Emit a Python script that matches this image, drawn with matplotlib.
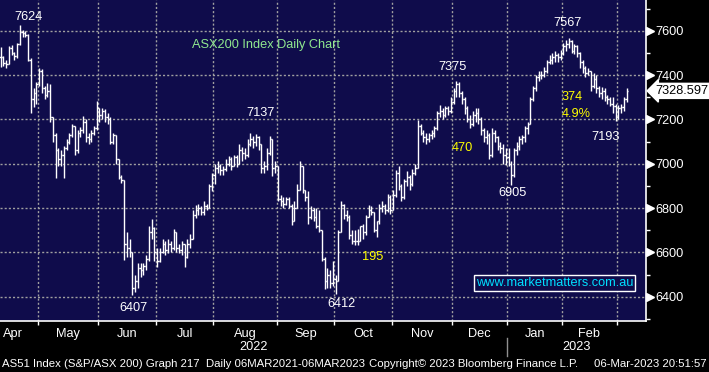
import numpy as np
import pandas as pd
import matplotlib
matplotlib.use('Agg')
import matplotlib.pyplot as plt
import matplotlib.transforms as mtransforms
from matplotlib.collections import LineCollection
from matplotlib.lines import Line2D

# ASX200 daily bars (Apr 2022 - Mar 2023)
closes_apr = [7480, 7455, 7450, 7520, 7500, 7485, 7540, 7595, 7590, 7580, 7470, 7290, 7320, 7360]
highs_apr = [7526, 7485, 7470, 7530, 7535, 7505, 7545, 7624, 7605, 7598, 7585, 7475, 7340, 7370]
lows_apr = [7435, 7440, 7430, 7450, 7490, 7470, 7475, 7535, 7570, 7570, 7465, 7230, 7255, 7270]

closes_may = [7420, 7340, 7310, 7330, 7210, 7130, 7060, 7020, 7040, 7070, 7100,
              7130, 7170, 7060, 7140, 7150, 7190, 7120, 7110, 7140, 7160, 7250]
highs_may = [7430, 7425, 7350, 7365, 7360, 7200, 7140, 7070, 7060, 7080, 7110,
             7140, 7180, 7170, 7150, 7165, 7215, 7200, 7140, 7150, 7170, 7285]
lows_may = [7350, 7320, 7290, 7300, 7190, 7100, 6935, 6990, 6990, 6935, 7060,
            7090, 7120, 7040, 7050, 7120, 7140, 7100, 7090, 7100, 7130, 7150]

closes_jun = [7220, 7240, 7210, 7200, 7100, 7130, 7020, 6940, 6925, 6640, 6620,
              6600, 6440, 6470, 6530, 6520, 6540, 6570, 6690, 6710, 6600]
highs_jun = [7250, 7253, 7245, 7230, 7210, 7140, 7130, 7020, 6950, 6920, 6690,
             6660, 6600, 6500, 6550, 6550, 6550, 6590, 6720, 6750, 6715]
lows_jun = [7190, 7200, 7190, 7180, 7090, 7090, 7000, 6930, 6915, 6565, 6580,
            6580, 6407, 6420, 6440, 6490, 6500, 6520, 6560, 6660, 6560]

closes_jul = [6560, 6600, 6640, 6610, 6640, 6620, 6690, 6620, 6610, 6640, 6580,
              6640, 6660, 6770, 6790, 6800, 6780, 6810, 6800, 6900, 6950]
highs_jul = [6620, 6620, 6660, 6650, 6660, 6650, 6705, 6690, 6640, 6650, 6620,
             6660, 6685, 6790, 6815, 6820, 6810, 6830, 6820, 6910, 6960]
lows_jul = [6535, 6555, 6595, 6590, 6595, 6600, 6610, 6600, 6595, 6590, 6535,
            6575, 6620, 6660, 6755, 6770, 6770, 6770, 6790, 6800, 6875]

closes_aug = [6980, 6990, 6970, 6975, 7000, 7020, 6990, 7030, 7000, 7060, 7050, 7040,
              7090, 7110, 7100, 7120, 7090, 6980, 6990, 7050, 7110, 6980, 6990]
highs_aug = [7000, 7010, 7000, 6990, 7020, 7035, 7030, 7040, 7040, 7090, 7075, 7070,
             7110, 7137, 7125, 7135, 7125, 7090, 7010, 7070, 7125, 7110, 7010]
lows_aug = [6910, 6960, 6950, 6950, 6965, 6990, 6970, 6990, 6985, 7000, 7010, 7020,
            7030, 7080, 7070, 7080, 7060, 6960, 6960, 6970, 7040, 6945, 6960]

closes_sep = [6840, 6830, 6820, 6840, 6810, 6740, 6800, 6880, 6990, 6880, 6850,
              6760, 6790, 6760, 6720, 6700, 6570, 6470, 6500, 6460, 6480]
highs_sep = [6990, 6860, 6850, 6850, 6850, 6820, 6830, 6910, 7010, 6990, 6880,
             6875, 6810, 6800, 6800, 6790, 6700, 6580, 6530, 6520, 6560]
lows_sep = [6830, 6810, 6800, 6815, 6800, 6725, 6740, 6800, 6880, 6870, 6830,
            6730, 6750, 6740, 6710, 6690, 6560, 6435, 6440, 6440, 6450]

closes_oct = [6470, 6690, 6815, 6770, 6760, 6680, 6650, 6650, 6650, 6720, 6690,
              6760, 6790, 6780, 6700, 6740, 6800, 6810, 6790, 6850, 6790]
highs_oct = [6500, 6700, 6830, 6820, 6790, 6770, 6700, 6700, 6705, 6720, 6730,
             6770, 6815, 6810, 6780, 6740, 6820, 6830, 6820, 6865, 6860]
lows_oct = [6412, 6470, 6690, 6750, 6740, 6660, 6640, 6635, 6635, 6650, 6660,
            6680, 6760, 6770, 6690, 6670, 6730, 6780, 6775, 6780, 6775]

closes_nov = [6860, 6960, 6900, 6850, 6920, 6940, 6910, 6960, 6980, 7170, 7140,
              7120, 7110, 7130, 7140, 7160, 7230, 7240, 7220, 7250, 7240, 7280]
highs_nov = [6880, 6970, 6990, 6910, 6930, 6965, 6950, 6975, 7000, 7195, 7180,
             7150, 7140, 7140, 7150, 7170, 7240, 7265, 7250, 7260, 7260, 7300]
lows_nov = [6790, 6850, 6880, 6830, 6840, 6900, 6880, 6900, 6950, 6980, 7130,
            7100, 7090, 7100, 7110, 7120, 7150, 7210, 7200, 7210, 7220, 7230]

closes_dec = [7330, 7360, 7320, 7290, 7250, 7200, 7180, 7220, 7230, 7200,
              7150, 7120, 7130, 7040, 7140, 7120, 7080, 7070, 7040, 7030]
highs_dec = [7340, 7375, 7370, 7330, 7300, 7260, 7220, 7240, 7250, 7250,
             7210, 7160, 7150, 7140, 7160, 7150, 7125, 7100, 7090, 7070]
lows_dec = [7270, 7300, 7300, 7270, 7225, 7190, 7160, 7170, 7190, 7180,
            7130, 7100, 7090, 7020, 7030, 7100, 7060, 7050, 7000, 6995]

closes_jan = [7000, 6950, 7060, 7080, 7110, 7120, 7160, 7180, 7290, 7340,
              7390, 7400, 7400, 7420, 7460, 7470, 7480, 7490, 7480, 7500]
highs_jan = [7070, 7010, 7070, 7100, 7125, 7130, 7170, 7190, 7300, 7350,
             7400, 7420, 7420, 7435, 7470, 7490, 7500, 7510, 7500, 7515]
lows_jan = [6990, 6905, 6940, 7040, 7060, 7090, 7100, 7135, 7180, 7285,
            7330, 7375, 7380, 7390, 7410, 7450, 7450, 7460, 7460, 7470]

closes_feb = [7530, 7540, 7555, 7510, 7530, 7500, 7460, 7430, 7410, 7420,
              7350, 7380, 7340, 7320, 7330, 7300, 7290, 7270, 7260, 7210]
highs_feb = [7545, 7560, 7567, 7560, 7540, 7535, 7505, 7470, 7440, 7430,
             7420, 7410, 7400, 7350, 7345, 7340, 7310, 7300, 7300, 7270]
lows_feb = [7490, 7510, 7520, 7500, 7495, 7480, 7430, 7410, 7390, 7400,
            7330, 7340, 7320, 7300, 7290, 7285, 7270, 7260, 7230, 7193]

closes_mar = [7250, 7255, 7290, 7328.597]
highs_mar = [7265, 7270, 7300, 7340]
lows_mar = [7200, 7230, 7240, 7280]

last_price = 7328.597

# ASX closed days in the window
holidays = ['2022-04-15', '2022-04-18', '2022-04-25', '2022-06-13', '2022-09-22',
            '2022-12-26', '2022-12-27', '2023-01-02', '2023-01-26']

month_names = ['Apr', 'May', 'Jun', 'Jul', 'Aug', 'Sep', 'Oct', 'Nov', 'Dec', 'Jan', 'Feb']
y_ticks = [6400, 6600, 6800, 7000, 7200, 7400, 7600]

# swing labels: (text, x px, y px, colour)
swing_labels = [
    ('7624', 28, 17, 'white'), ('7137', 261, 113, 'white'), ('6407', 133, 308, 'white'),
    ('6412', 342, 304, 'white'), ('7375', 453, 67, 'white'), ('6905', 513, 193, 'white'),
    ('7567', 568, 23, 'white'), ('7193', 606, 137, 'white'),
    ('195', 373, 257, '#ffff00'), ('470', 462, 148, '#ffff00'),
]

dates = pd.bdate_range('2022-04-07', '2023-03-06')
dates = dates[~dates.isin(pd.to_datetime(holidays))]

close = np.array(closes_apr + closes_may + closes_jun + closes_jul + closes_aug + closes_sep
                 + closes_oct + closes_nov + closes_dec + closes_jan + closes_feb + closes_mar)
high = np.array(highs_apr + highs_may + highs_jun + highs_jul + highs_aug + highs_sep
                + highs_oct + highs_nov + highs_dec + highs_jan + highs_feb + highs_mar)
low = np.array(lows_apr + lows_may + lows_jun + lows_jul + lows_aug + lows_sep
               + lows_oct + lows_nov + lows_dec + lows_jan + lows_feb + lows_mar)
n = len(dates)
x = np.arange(n)
opens = np.concatenate([[close[0]], close[:-1]])

W, H = 709, 372
BG = '#0f0c4b'
fig = plt.figure(figsize=(W / 100, H / 100), dpi=100, facecolor='black')
ax = fig.add_axes([0, 51 / H, 646 / W, 321 / H])
ax.set_facecolor(BG)

# bar chart: high-low line with open tick left, close tick right
segs = []
w = 0.5
for i in range(n):
    lo = min(low[i], opens[i], close[i])
    hi = max(high[i], opens[i], close[i])
    segs.append([(x[i], lo), (x[i], hi)])
    segs.append([(x[i] - w, opens[i]), (x[i], opens[i])])
    segs.append([(x[i], close[i]), (x[i] + w, close[i])])
ax.add_collection(LineCollection(segs, colors='white', linewidths=1.0, zorder=3))

ax.set_xlim(-0.244, 235.09)
ax.set_ylim(6290.4, 7738.5)

# month boundaries
starts = [i for i in range(1, n) if dates[i].month != dates[i - 1].month]
bounds = [s - 0.5 for s in starts]
for b in bounds:
    ax.axvline(b, color='#a0a0a0', lw=1.0, ls=(0, (1.5, 1.5)), zorder=1)
for v in y_ticks:
    ax.axhline(v, color='#a0a0a0', lw=1.0, ls=(0, (1.5, 1.5)), zorder=1)

ax.set_xticks(bounds)
ax.set_xticklabels([])
label_pos = [4.5] + [(bounds[k] + bounds[k + 1]) / 2 for k in range(len(bounds) - 1)]
ax.set_xticks(label_pos[:len(month_names)], minor=True)
ax.set_xticklabels(month_names, minor=True)
ax.tick_params(axis='x', which='major', length=3, color='white', width=1)
ax.tick_params(axis='x', which='minor', length=0, pad=5, labelsize=9.2, labelcolor='white')

ax.yaxis.tick_right()
ax.set_yticks(y_ticks)
ax.set_yticklabels([str(v) for v in y_ticks])
ax.set_yticks(np.arange(6300, 7701, 200), minor=True)
ax.tick_params(axis='y', which='major', length=0, pad=7, labelsize=9.2, labelcolor='white')
ax.tick_params(axis='y', which='minor', length=3, color='white', width=1)
for lab in ax.get_xticklabels(minor=True) + ax.get_yticklabels():
    lab.set_family('Liberation Sans')

for s in ['left', 'top']:
    ax.spines[s].set_visible(False)
for s in ['right', 'bottom']:
    ax.spines[s].set_color('white')
    ax.spines[s].set_linewidth(1.2)

trans = mtransforms.blended_transform_factory(ax.transAxes, ax.transData)
ax.plot([1.0062] * len(y_ticks), y_ticks, transform=trans, ls='none', marker='>',
        ms=5.5, color='white', clip_on=False, zorder=5)
ax.text(1.014, last_price, f'{last_price:.3f}', transform=trans, ha='left', va='center',
        fontsize=9.2, family='Liberation Sans', color='black', zorder=6,
        bbox=dict(boxstyle='larrow,pad=0.12', fc='white', ec='white'))


def ftext(px, py, s, **kw):
    fig.text(px / W, 1 - py / H, s, **kw)


for s, px, py, c in swing_labels:
    ftext(px, py, s, ha='center', va='center', color=c, fontsize=9.2, family='Liberation Sans')
ftext(562, 97, '374', ha='left', va='center', color='#ffff00', fontsize=9.2, family='Liberation Sans')
ftext(562, 114, '4.9%', ha='left', va='center', color='#ffff00', fontsize=9.2, family='Liberation Sans')
ftext(192, 45, 'ASX200 Index Daily Chart', ha='left', va='center', color='#8fe88f',
      fontsize=9.2, family='Liberation Sans')
ftext(554.5, 283, 'www.marketmatters.com.au', ha='center', va='center', color='#00e0ff',
      fontsize=9.2, family='Liberation Sans',
      bbox=dict(boxstyle='square,pad=0.15', fc=BG, ec='white', lw=1))

# year row and footer
ftext(253.5, 347, '2022', ha='center', va='center', color='white', fontsize=9.2, family='Liberation Sans')
ftext(576.5, 347, '2023', ha='center', va='center', color='white', fontsize=9.2, family='Liberation Sans')
fig.add_artist(Line2D([507 / W, 507 / W], [1 - 338 / H, 1 - 356 / H], color='#909090', lw=1))

foot = dict(va='center', color='white', fontsize=8.2, family='Liberation Sans')
ftext(2, 364, 'AS51 Index (S&P/ASX 200) Graph 217', ha='left', **foot)
ftext(206, 364, 'Daily 06MAR2021-06MAR2023', ha='left', **foot)
ftext(369, 364, 'Copyright\u00a9 2023 Bloomberg Finance L.P.', ha='left', **foot)
ftext(707, 364, '06-Mar-2023 20:51:57', ha='right', **foot)

fig.savefig('out.png', dpi=100, facecolor='black')
